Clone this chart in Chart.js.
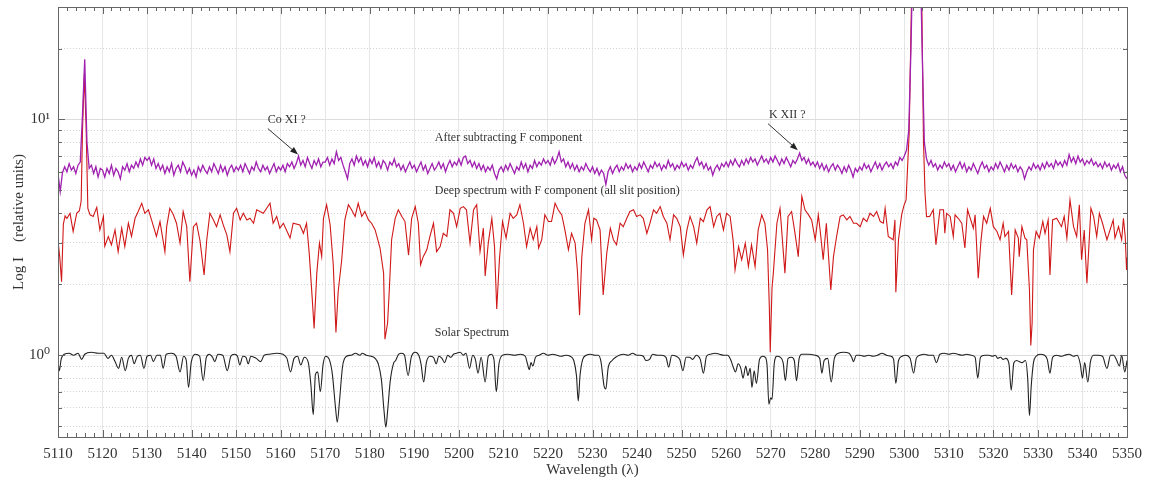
<!DOCTYPE html>
<html>
<head>
<meta charset="utf-8">
<script src="https://cdn.jsdelivr.net/npm/chart.js@4.4.0/dist/chart.umd.min.js"></script>
<style>
  html, body { margin: 0; padding: 0; background: #fff; }
</style>
</head>
<body>
<canvas id="spectra" width="1152" height="481"></canvas>
<script>
// Axis ranges and ticks
const xMin = 5110, xMax = 5350;
const yMin = 0.45, yMax = 30;
const yMajorTicks = [1, 10];
const yMinorTicks = [0.5, 0.6, 0.7, 0.8, 0.9, 2, 3, 4, 5, 6, 7, 8, 9, 20];

// Solar spectrum (black)
const solarWl = [5110.0, 5110.3, 5110.7, 5111.4, 5112.5, 5113.5, 5114.5, 5115.3, 5116.0, 5117.5, 5119.0, 5120.3, 5121.2, 5122.0, 5122.8, 5123.6, 5124.3, 5125.1, 5125.8, 5126.5, 5127.1, 5127.8, 5128.5, 5129.3, 5130.0, 5130.8, 5131.4, 5132.2, 5133.0, 5133.6, 5134.3, 5135.5, 5136.5, 5137.4, 5138.2, 5138.8, 5139.3, 5139.9, 5140.8, 5141.8, 5142.6, 5143.3, 5144.0, 5144.7, 5145.2, 5145.9, 5147.0, 5148.0, 5148.8, 5149.6, 5150.3, 5150.8, 5151.5, 5152.2, 5152.7, 5153.3, 5154.5, 5155.5, 5156.3, 5157.5, 5159.0, 5160.5, 5161.4, 5162.2, 5163.0, 5163.8, 5164.5, 5165.3, 5166.2, 5166.8, 5167.3, 5167.8, 5168.3, 5168.9, 5169.5, 5170.1, 5170.9, 5171.6, 5172.3, 5172.7, 5173.2, 5173.9, 5174.8, 5175.8, 5176.8, 5177.8, 5178.3, 5179.2, 5180.3, 5181.2, 5181.9, 5182.6, 5183.2, 5183.6, 5184.0, 5184.6, 5185.3, 5185.8, 5186.5, 5187.2, 5187.8, 5188.6, 5189.3, 5190.2, 5191.0, 5191.5, 5192.1, 5192.7, 5193.5, 5194.3, 5194.9, 5195.5, 5196.2, 5196.8, 5197.5, 5198.2, 5198.8, 5199.5, 5200.3, 5201.0, 5201.6, 5202.4, 5203.1, 5203.7, 5204.3, 5205.0, 5205.9, 5206.6, 5207.3, 5207.9, 5208.4, 5209.0, 5209.8, 5211.0, 5212.5, 5213.8, 5214.9, 5215.4, 5215.8, 5216.2, 5216.6, 5217.2, 5218.0, 5219.0, 5220.0, 5221.0, 5222.0, 5223.0, 5224.0, 5225.0, 5225.8, 5226.4, 5226.8, 5227.2, 5227.8, 5228.6, 5229.6, 5230.5, 5231.3, 5231.9, 5232.6, 5233.0, 5233.5, 5234.4, 5235.2, 5236.0, 5237.0, 5238.0, 5239.0, 5240.0, 5240.6, 5241.4, 5242.0, 5242.8, 5243.5, 5244.5, 5245.5, 5246.5, 5247.1, 5247.8, 5248.8, 5249.6, 5250.3, 5251.0, 5251.8, 5252.5, 5253.3, 5254.2, 5254.9, 5255.6, 5256.5, 5257.5, 5258.5, 5259.5, 5260.3, 5261.0, 5261.6, 5262.1, 5262.7, 5263.3, 5263.8, 5264.4, 5264.9, 5265.4, 5265.8, 5266.3, 5266.8, 5267.5, 5268.2, 5268.8, 5269.2, 5269.6, 5270.0, 5270.3, 5270.8, 5271.4, 5272.2, 5272.8, 5273.3, 5273.9, 5274.7, 5275.3, 5275.8, 5276.4, 5277.0, 5278.5, 5280.0, 5281.0, 5281.5, 5282.0, 5282.8, 5283.6, 5284.3, 5285.2, 5286.4, 5287.6, 5288.2, 5288.6, 5289.2, 5290.0, 5291.0, 5292.0, 5293.0, 5294.0, 5295.0, 5296.0, 5297.0, 5297.6, 5298.1, 5298.7, 5299.5, 5300.3, 5301.3, 5302.1, 5302.7, 5303.5, 5304.5, 5305.5, 5306.5, 5307.2, 5308.0, 5309.0, 5310.0, 5311.0, 5312.0, 5313.0, 5314.0, 5315.0, 5315.9, 5316.5, 5317.1, 5318.0, 5319.0, 5319.8, 5320.4, 5321.0, 5321.6, 5322.2, 5322.8, 5323.5, 5324.0, 5324.6, 5325.2, 5325.8, 5326.4, 5327.2, 5327.7, 5328.1, 5328.5, 5329.0, 5329.6, 5330.5, 5331.5, 5332.1, 5332.7, 5333.3, 5334.2, 5335.2, 5336.0, 5337.0, 5338.0, 5338.8, 5339.5, 5340.0, 5340.5, 5341.2, 5341.8, 5342.5, 5343.5, 5344.5, 5345.5, 5346.3, 5347.0, 5347.6, 5348.3, 5348.8, 5349.5, 5350.0];
const solarI = [0.93, 0.86, 0.96, 1.01, 1.02, 1.0, 1.02, 0.96, 1.01, 1.03, 1.02, 1.02, 0.97, 1.0, 0.94, 0.88, 0.98, 0.86, 0.97, 1.0, 0.92, 0.99, 1.0, 0.88, 0.99, 1.0, 0.94, 1.0, 1.0, 0.88, 1.01, 1.02, 0.99, 0.85, 0.99, 0.95, 0.73, 0.93, 1.01, 0.99, 0.78, 0.98, 1.01, 0.98, 0.94, 1.01, 1.0, 0.86, 0.99, 1.01, 0.99, 0.91, 0.99, 0.98, 0.92, 0.99, 0.97, 0.94, 1.0, 1.01, 1.02, 1.01, 0.97, 0.85, 0.97, 0.99, 0.91, 0.98, 0.93, 0.74, 0.56, 0.83, 0.85, 0.70, 0.91, 0.99, 0.96, 0.83, 0.60, 0.52, 0.64, 0.90, 0.99, 1.0, 1.02, 1.0, 1.02, 1.0, 0.99, 0.97, 0.92, 0.79, 0.58, 0.495, 0.58, 0.78, 0.92, 0.95, 1.01, 1.02, 1.0, 0.82, 0.98, 1.03, 1.0, 0.92, 0.77, 0.93, 0.99, 0.98, 0.92, 0.99, 0.97, 0.93, 1.0, 0.98, 1.01, 1.02, 1.03, 1.0, 1.02, 0.88, 1.0, 0.96, 0.84, 0.98, 0.77, 0.99, 1.01, 0.95, 0.70, 0.92, 1.0, 1.01, 1.0, 1.01, 0.99, 0.92, 0.87, 0.93, 0.90, 0.98, 1.0, 1.02, 1.0, 1.01, 1.0, 0.99, 1.0, 0.99, 0.95, 0.82, 0.64, 0.82, 0.96, 1.0, 1.01, 1.0, 1.0, 0.94, 0.74, 0.72, 0.88, 0.95, 0.98, 1.0, 1.01, 1.0, 1.02, 1.0, 1.0, 0.99, 0.95, 0.96, 1.01, 1.0, 1.0, 0.98, 0.89, 1.0, 0.99, 0.96, 0.86, 0.98, 0.98, 0.96, 1.0, 0.96, 0.84, 0.99, 1.01, 1.02, 1.01, 1.0, 1.0, 0.96, 0.89, 0.85, 0.92, 0.88, 0.80, 0.90, 0.82, 0.88, 0.73, 0.86, 0.76, 0.96, 0.99, 0.98, 0.90, 0.62, 0.66, 0.65, 0.92, 0.99, 0.98, 0.93, 0.78, 0.97, 0.98, 0.95, 0.78, 0.97, 1.01, 1.01, 1.0, 0.97, 0.84, 0.95, 0.97, 0.77, 0.97, 1.02, 1.03, 1.02, 0.98, 0.94, 1.0, 1.0, 0.99, 1.0, 0.99, 1.0, 1.02, 1.0, 0.99, 0.96, 0.76, 0.95, 0.99, 1.0, 0.97, 0.84, 0.97, 1.0, 1.01, 1.0, 1.0, 0.93, 1.01, 1.02, 1.01, 1.02, 1.01, 1.0, 1.01, 1.0, 0.98, 0.80, 0.98, 1.0, 1.0, 0.99, 1.0, 0.97, 0.98, 0.96, 0.97, 0.92, 0.71, 0.93, 0.95, 0.94, 0.93, 0.95, 0.80, 0.555, 0.74, 0.93, 0.99, 1.01, 1.0, 0.96, 0.84, 0.98, 1.0, 0.99, 1.0, 1.01, 0.99, 1.0, 0.92, 0.80, 0.93, 0.77, 0.94, 1.0, 1.0, 0.99, 0.88, 1.0, 1.0, 0.96, 0.90, 1.0, 0.85, 0.95];

// Deep spectrum with F component (red)
const redWl = [5110.0, 5110.4, 5110.8, 5111.2, 5111.6, 5112.0, 5112.7, 5113.4, 5114.2, 5114.8, 5115.2, 5115.5, 5115.9, 5116.3, 5116.7, 5117.2, 5117.9, 5118.7, 5119.4, 5120.2, 5120.5, 5121.3, 5122.0, 5122.8, 5123.5, 5124.3, 5125.0, 5125.8, 5126.5, 5127.3, 5128.0, 5128.8, 5129.5, 5130.3, 5131.0, 5132.1, 5132.9, 5134.0, 5134.4, 5135.1, 5135.9, 5136.6, 5137.4, 5138.1, 5138.9, 5139.6, 5140.4, 5141.1, 5141.9, 5142.8, 5143.4, 5144.1, 5144.9, 5145.6, 5146.4, 5147.1, 5147.9, 5148.6, 5149.4, 5150.1, 5150.9, 5151.6, 5152.4, 5153.1, 5153.9, 5154.6, 5156.1, 5157.6, 5158.3, 5159.1, 5159.8, 5160.6, 5162.1, 5162.8, 5164.3, 5165.1, 5165.8, 5166.4, 5166.9, 5167.5, 5168.1, 5168.7, 5169.2, 5169.6, 5170.3, 5171.1, 5171.8, 5172.4, 5172.9, 5173.7, 5174.4, 5175.2, 5175.9, 5176.7, 5177.4, 5178.2, 5178.9, 5179.7, 5180.4, 5181.2, 5182.3, 5183.1, 5183.4, 5184.0, 5184.4, 5184.9, 5185.7, 5186.4, 5187.2, 5187.9, 5188.7, 5189.4, 5190.2, 5190.9, 5191.4, 5192.0, 5192.8, 5193.5, 5194.3, 5195.0, 5195.8, 5196.5, 5197.3, 5198.0, 5198.8, 5199.5, 5200.3, 5201.0, 5201.7, 5202.5, 5203.3, 5204.0, 5204.75, 5205.5, 5205.9, 5206.6, 5207.4, 5208.0, 5208.5, 5209.1, 5209.8, 5210.6, 5211.5, 5212.2, 5213.0, 5213.7, 5214.5, 5215.2, 5216.0, 5216.7, 5217.5, 5217.9, 5218.6, 5219.3, 5220.1, 5220.8, 5221.6, 5222.3, 5223.1, 5223.8, 5224.6, 5225.3, 5226.1, 5226.6, 5227.1, 5227.6, 5228.3, 5229.1, 5229.8, 5230.3, 5230.9, 5231.7, 5232.4, 5233.2, 5234.0, 5234.7, 5235.4, 5236.2, 5236.9, 5237.7, 5238.4, 5239.2, 5239.9, 5240.7, 5241.4, 5242.2, 5242.9, 5243.7, 5244.4, 5245.2, 5245.9, 5246.7, 5247.4, 5248.2, 5248.9, 5249.7, 5250.4, 5251.2, 5251.9, 5252.7, 5253.4, 5254.2, 5254.9, 5255.7, 5256.4, 5257.2, 5257.9, 5258.6, 5259.4, 5260.1, 5260.9, 5261.6, 5262.0, 5262.8, 5263.5, 5264.3, 5265.0, 5265.7, 5266.5, 5267.2, 5268.0, 5268.7, 5269.3, 5269.7, 5269.9, 5270.3, 5270.6, 5271.4, 5272.1, 5273.2, 5273.9, 5274.7, 5275.4, 5276.2, 5277.0, 5277.7, 5278.5, 5279.2, 5280.0, 5280.7, 5281.1, 5281.8, 5282.5, 5283.5, 5284.1, 5284.8, 5285.6, 5286.3, 5287.1, 5287.8, 5288.6, 5289.3, 5290.1, 5290.8, 5291.6, 5292.3, 5293.1, 5293.8, 5294.6, 5295.3, 5295.7, 5296.4, 5297.5, 5297.9, 5298.1, 5298.7, 5299.4, 5299.9, 5300.4, 5301.1, 5301.65, 5302.2, 5303.0, 5303.6, 5303.9, 5304.3, 5304.65, 5305.0, 5305.7, 5306.5, 5307.1, 5308.0, 5308.8, 5309.1, 5309.5, 5310.3, 5311.0, 5311.4, 5312.1, 5312.9, 5313.6, 5314.2, 5314.8, 5315.5, 5315.9, 5316.6, 5317.2, 5317.8, 5318.5, 5319.3, 5320.0, 5320.8, 5321.5, 5322.2, 5322.6, 5323.4, 5324.1, 5324.9, 5325.6, 5325.8, 5326.4, 5327.1, 5327.5, 5328.1, 5328.4, 5328.7, 5329.0, 5329.6, 5330.3, 5331.1, 5331.6, 5332.3, 5332.7, 5333.3, 5334.2, 5335.3, 5335.9, 5336.5, 5337.2, 5338.0, 5338.7, 5339.3, 5339.8, 5340.4, 5341.0, 5341.9, 5342.5, 5343.2, 5343.8, 5344.5, 5345.5, 5346.2, 5346.9, 5347.3, 5348.1, 5348.8, 5349.2, 5349.6, 5349.9, 5350.0];
const redI = [3.05, 2.6, 2.05, 3.6, 3.9, 3.8, 4.0, 3.35, 4.0, 4.1, 4.5, 9.0, 15.5, 9.5, 4.2, 3.94, 3.88, 4.24, 3.40, 3.88, 2.90, 3.19, 2.94, 3.40, 2.75, 3.46, 2.89, 3.63, 3.19, 3.81, 4.07, 4.41, 4.0, 4.14, 3.75, 3.19, 3.69, 2.75, 3.51, 4.20, 3.94, 3.63, 2.99, 4.07, 3.51, 2.05, 3.51, 3.63, 3.04, 2.19, 3.09, 4.0, 3.75, 3.51, 3.94, 3.57, 3.24, 2.75, 4.0, 4.20, 3.75, 4.0, 3.75, 3.81, 3.63, 4.14, 4.0, 4.41, 3.63, 3.88, 3.46, 3.63, 3.14, 3.63, 3.57, 3.29, 3.63, 2.71, 1.96, 1.30, 2.23, 2.99, 2.62, 3.81, 4.35, 3.57, 2.42, 1.25, 1.86, 2.54, 3.75, 4.35, 4.14, 3.88, 4.41, 3.88, 4.07, 3.75, 3.63, 3.40, 2.85, 2.23, 1.17, 1.37, 1.93, 3.09, 3.81, 4.14, 3.88, 3.69, 2.66, 3.81, 4.27, 3.63, 2.42, 2.62, 2.80, 3.19, 3.63, 2.75, 2.89, 3.29, 3.19, 4.14, 4.0, 3.51, 4.20, 4.27, 4.14, 2.99, 4.14, 4.35, 2.75, 3.46, 2.17, 2.99, 3.81, 2.89, 1.57, 2.54, 3.69, 3.14, 4.0, 3.81, 3.94, 4.35, 3.63, 2.89, 3.46, 3.09, 3.51, 2.85, 3.09, 3.94, 3.69, 3.69, 4.41, 4.14, 3.94, 3.40, 2.80, 3.29, 2.99, 2.30, 1.48, 2.62, 3.63, 4.14, 3.09, 3.81, 3.75, 3.40, 1.80, 2.71, 3.46, 3.09, 2.94, 3.63, 3.51, 3.81, 4.07, 4.14, 3.88, 3.94, 3.81, 3.29, 3.63, 4.14, 4.0, 4.27, 3.88, 3.63, 3.09, 3.94, 3.81, 3.51, 2.66, 3.40, 3.88, 3.51, 2.99, 3.81, 3.69, 4.14, 4.27, 3.51, 3.88, 4.0, 3.40, 4.0, 3.88, 3.04, 2.30, 2.89, 2.54, 2.99, 2.38, 2.94, 2.38, 3.40, 3.94, 3.63, 2.80, 1.60, 1.03, 1.93, 2.23, 3.63, 4.20, 2.23, 3.88, 4.07, 3.35, 2.62, 4.72, 4.14, 3.94, 3.75, 3.09, 3.94, 3.40, 2.54, 3.63, 1.89, 2.62, 3.19, 3.88, 3.94, 3.75, 3.88, 3.63, 3.63, 3.51, 3.81, 3.69, 4.0, 3.88, 4.07, 3.69, 3.63, 4.20, 3.19, 3.09, 3.75, 1.85, 3.09, 3.94, 4.3, 4.56, 8.8, 35, 80, 90, 60, 35, 8.2, 4.89, 3.87, 3.88, 4.14, 2.94, 4.14, 4.14, 3.29, 4.0, 3.88, 3.19, 3.94, 3.81, 3.63, 2.85, 4.14, 3.81, 3.46, 3.94, 2.12, 3.04, 3.88, 3.63, 4.20, 3.51, 3.35, 3.09, 3.63, 3.19, 3.35, 1.80, 3.40, 3.14, 2.62, 3.51, 3.14, 3.09, 1.89, 1.10, 1.37, 2.80, 3.35, 3.14, 3.69, 3.29, 3.75, 2.19, 3.75, 3.81, 3.51, 3.88, 3.14, 4.56, 3.51, 3.19, 4.35, 2.54, 3.40, 2.02, 4.20, 3.88, 3.19, 4.0, 3.63, 3.09, 3.40, 3.75, 3.14, 3.51, 3.09, 3.81, 3.19, 2.30, 2.6];

// After subtracting F component (purple), sampled every 0.5 nm from 5110
const purpleStart = 5110, purpleStep = 0.5;
const purpleI = [
  5.9, 4.95, 5.95, 6.3, 6.0, 6.5, 6.1, 6.3, 5.9, 6.4, 6.6, 10.5, 18.0, 8.0, 6.2, 6.4, 5.9, 6.3, 5.7, 6.2,
  6.1, 5.7, 6.2, 5.9, 6.4, 5.8, 6.2, 6.0, 5.6, 6.3, 6.1, 6.5, 6.0, 6.4, 6.2, 6.6, 6.3, 6.8, 6.4, 6.9,
  6.7, 6.9, 6.4, 6.8, 6.2, 6.5, 6.1, 6.4, 5.9, 6.3, 6.0, 6.5, 5.8, 6.2, 6.4, 6.0, 6.6, 6.3, 5.9, 6.2,
  5.8, 6.1, 5.7, 6.3, 6.0, 6.4, 6.1, 5.9, 6.3, 6.0, 6.5, 6.2, 5.9, 6.4, 6.0, 6.3, 5.8, 6.2, 6.4, 6.0,
  6.3, 6.1, 6.4, 6.0, 6.5, 6.2, 5.9, 6.3, 6.1, 6.6, 6.2, 6.0, 6.4, 6.1, 6.3, 5.9, 6.2, 6.5, 6.0, 6.3,
  6.1, 6.4, 6.0, 6.5, 6.3, 6.6, 6.2, 6.5, 7.0, 6.4, 6.7, 6.3, 6.9, 6.5, 6.2, 6.7, 6.4, 6.8, 6.3, 6.6,
  6.6, 6.9, 6.4, 6.8, 6.5, 7.3, 6.7, 6.9, 6.4, 6.0, 5.6, 6.5, 6.8, 6.4, 7.0, 6.6, 6.9, 6.4, 6.7, 6.3,
  6.8, 6.5, 6.9, 6.3, 6.6, 6.2, 6.7, 6.5, 6.1, 6.6, 6.4, 6.8, 6.3, 6.5, 6.1, 6.4, 6.0, 6.3, 6.6, 6.2,
  6.4, 6.0, 6.3, 6.6, 6.1, 6.4, 5.9, 6.2, 6.5, 6.1, 6.3, 6.6, 6.2, 6.5, 6.0, 6.4, 6.7, 6.3, 6.6, 6.4,
  6.8, 6.4, 6.9, 7.0, 6.5, 6.7, 6.3, 6.6, 6.2, 6.5, 6.1, 6.4, 6.0, 6.3, 6.1, 6.4, 5.9, 5.6, 6.1, 6.3,
  6.0, 6.4, 6.1, 6.5, 6.2, 5.9, 6.3, 6.1, 6.6, 6.2, 6.5, 6.0, 6.4, 6.2, 6.7, 6.3, 6.6, 6.4, 6.8, 6.5,
  6.7, 6.4, 6.9, 6.5, 6.8, 7.3, 6.6, 6.8, 6.3, 6.6, 6.2, 6.5, 6.1, 6.4, 6.0, 6.3, 6.1, 6.5, 6.2, 6.0,
  6.3, 5.9, 6.2, 5.8, 6.1, 5.9, 5.3, 6.0, 6.3, 5.9, 6.2, 6.4, 6.0, 6.3, 6.1, 6.5, 6.2, 6.4, 6.0, 6.3,
  6.1, 6.5, 6.2, 6.6, 6.3, 6.0, 6.4, 6.2, 6.6, 6.3, 6.5, 6.1, 6.4, 6.2, 6.7, 6.3, 6.5, 6.1, 6.4, 6.2,
  6.6, 6.3, 6.5, 6.1, 6.4, 6.2, 6.6, 6.9, 6.4, 6.6, 6.2, 6.5, 6.1, 6.3, 5.8, 6.2, 6.4, 6.1, 6.5, 6.3,
  6.6, 6.3, 6.7, 6.4, 6.8, 6.5, 6.3, 6.7, 6.4, 6.8, 6.5, 6.9, 6.6, 6.8, 6.4, 6.7, 7.0, 6.6, 6.8, 6.5,
  6.9, 6.6, 7.0, 6.7, 6.4, 6.8, 6.5, 6.9, 6.6, 6.3, 6.7, 6.5, 6.8, 7.2, 6.7, 6.9, 6.5, 6.8, 6.4, 6.6,
  6.3, 6.6, 6.2, 6.5, 6.1, 6.4, 6.0, 6.3, 6.5, 6.1, 6.4, 6.2, 5.9, 6.3, 6.0, 6.4, 6.1, 5.7, 6.2, 6.0,
  6.3, 6.1, 6.5, 6.2, 6.4, 6.0, 6.3, 6.6, 6.2, 6.5, 6.1, 6.4, 6.6, 6.3, 6.5, 6.2, 6.6, 6.4, 6.9, 6.7,
  7.0, 7.4, 9.0, 20, 60, 90, 90, 60, 20, 8.0, 6.8, 6.4, 6.7, 6.3, 6.5, 6.1, 6.4, 6.2, 6.6, 6.3,
  6.5, 6.1, 6.4, 6.0, 6.3, 6.6, 6.2, 6.5, 6.0, 6.3, 6.1, 6.5, 6.2, 5.9, 6.3, 6.6, 6.2, 6.4, 6.0, 6.3,
  6.1, 6.5, 6.2, 6.6, 6.3, 6.0, 6.4, 6.1, 6.5, 6.2, 6.4, 6.0, 6.3, 6.1, 5.6, 6.0, 6.3, 6.1, 6.5, 6.2,
  6.4, 6.1, 6.5, 6.2, 6.6, 6.3, 6.5, 6.2, 6.7, 6.4, 6.6, 6.3, 6.7, 6.4, 7.1, 6.6, 6.9, 6.5, 7.0, 6.6,
  6.8, 6.4, 6.7, 6.5, 6.8, 6.4, 6.6, 6.3, 6.5, 6.2, 6.6, 6.3, 6.5, 6.1, 6.4, 6.2, 6.5, 6.0, 6.3, 5.8,
  5.6
];

// Text labels placed in data coordinates (left edge, vertical centre)
const noteTexts = ["After subtracting F component", "Deep spectrum with F component (all slit position)", "Solar Spectrum", "Co XI ?", "K XII ?"];
const noteWl = [5194.6, 5194.6, 5194.6, 5157.1, 5269.6];
const noteI = [8.36, 4.98, 1.24, 10.0, 10.5];

// Arrows: [start wavelength, start I], [end wavelength, end I]
const arrowFrom = [[5157.1, 9.15], [5269.4, 9.6]];
const arrowTo = [[5163.9, 7.1], [5276.1, 7.4]];

const serif = '"Liberation Serif", "DejaVu Serif", serif';

function pairs(xs, ys) {
  return xs.map((w, i) => ({ x: w, y: ys[i] }));
}
const purplePts = purpleI.map((v, i) => ({ x: purpleStart + i * purpleStep, y: v }));

// Inward ticks and box frame (MATLAB style)
const frameTicks = {
  id: 'frameTicks',
  afterDraw(chart) {
    const { ctx, chartArea: a, scales } = chart;
    const xs = scales.x, ys = scales.y;
    ctx.save();
    ctx.strokeStyle = '#666';
    ctx.lineWidth = 1;
    ctx.beginPath();
    for (let w = xMin; w <= xMax; w += 2) {
      const px = Math.round(xs.getPixelForValue(w)) + 0.5;
      const len = (w % 10 === 0) ? 7 : 4;
      ctx.moveTo(px, a.bottom); ctx.lineTo(px, a.bottom - len);
      ctx.moveTo(px, a.top); ctx.lineTo(px, a.top + len);
    }
    yMajorTicks.concat(yMinorTicks).forEach(v => {
      const py = Math.round(ys.getPixelForValue(v)) + 0.5;
      const len = yMajorTicks.includes(v) ? 7 : 4;
      ctx.moveTo(a.left, py); ctx.lineTo(a.left + len, py);
      ctx.moveTo(a.right, py); ctx.lineTo(a.right - len, py);
    });
    ctx.stroke();
    ctx.strokeRect(Math.round(a.left) + 0.5, Math.round(a.top) + 0.5, Math.round(a.right - a.left), Math.round(a.bottom - a.top));
    ctx.restore();
  }
};

// Text notes and arrows
const notes = {
  id: 'notes',
  afterDatasetsDraw(chart) {
    const { ctx, scales } = chart;
    const xs = scales.x, ys = scales.y;
    ctx.save();
    ctx.font = '12px ' + serif;
    ctx.fillStyle = '#333';
    ctx.textBaseline = 'middle';
    noteTexts.forEach((t, i) => {
      ctx.fillText(t, xs.getPixelForValue(noteWl[i]), ys.getPixelForValue(noteI[i]));
    });
    ctx.strokeStyle = '#333';
    ctx.fillStyle = '#222';
    ctx.lineWidth = 1;
    arrowFrom.forEach((p, i) => {
      const x0 = xs.getPixelForValue(p[0]), y0 = ys.getPixelForValue(p[1]);
      const x1 = xs.getPixelForValue(arrowTo[i][0]), y1 = ys.getPixelForValue(arrowTo[i][1]);
      const ang = Math.atan2(y1 - y0, x1 - x0);
      ctx.beginPath();
      ctx.moveTo(x0, y0); ctx.lineTo(x1 - 5 * Math.cos(ang), y1 - 5 * Math.sin(ang));
      ctx.stroke();
      ctx.beginPath();
      ctx.moveTo(x1, y1);
      ctx.lineTo(x1 - 8 * Math.cos(ang) + 3 * Math.sin(ang), y1 - 8 * Math.sin(ang) - 3 * Math.cos(ang));
      ctx.lineTo(x1 - 8 * Math.cos(ang) - 3 * Math.sin(ang), y1 - 8 * Math.sin(ang) + 3 * Math.cos(ang));
      ctx.closePath();
      ctx.fill();
    });
    ctx.restore();
  }
};

Chart.defaults.font.family = serif;
Chart.defaults.color = '#333';

new Chart(document.getElementById('spectra'), {
  type: 'line',
  data: {
    datasets: [
      {
        label: 'After subtracting F component',
        data: purplePts,
        borderColor: '#a020b0',
        borderWidth: 1.3,
        pointRadius: 0,
        tension: 0,
      },
      {
        label: 'Deep spectrum with F component',
        data: pairs(redWl, redI),
        borderColor: '#d01818',
        borderWidth: 1.1,
        pointRadius: 0,
        tension: 0,
      },
      {
        label: 'Solar Spectrum',
        data: pairs(solarWl, solarI),
        borderColor: '#222',
        borderWidth: 1.1,
        pointRadius: 0,
        cubicInterpolationMode: 'monotone',
      },
    ],
  },
  options: {
    responsive: false,
    animation: false,
    events: [],
    layout: { padding: { top: 7, right: 25, bottom: 0, left: 0 } },
    plugins: {
      legend: { display: false },
      tooltip: { enabled: false },
    },
    scales: {
      x: {
        type: 'linear',
        min: xMin,
        max: xMax,
        grid: { color: '#e6e6e6', drawTicks: false },
        border: { display: false },
        ticks: {
          stepSize: 10, autoSkip: false, maxRotation: 0, padding: 8, font: { size: 15 },
          callback: (v) => String(v),
        },
        title: { display: true, text: 'Wavelength (λ)', font: { size: 15 }, padding: { top: 0, bottom: 2 } },
        afterFit(scale) { scale.height = 44; scale.paddingLeft = 0; scale.paddingRight = 0; },
      },
      y: {
        type: 'logarithmic',
        min: yMin,
        max: yMax,
        grid: { color: '#dcdcdc', drawTicks: false },
        border: { display: false },
        afterBuildTicks(scale) { scale.ticks = yMajorTicks.map(v => ({ value: v })); },
        ticks: {
          padding: 8,
          font: { size: 15 },
          callback: (v) => v === 1 ? '10⁰' : (v === 10 ? '10¹' : ''),
        },
        title: { display: true, text: 'Log I    (relative units)', font: { size: 15 }, padding: { top: 10, bottom: 0 } },
        afterFit(scale) { scale.width = 58; scale.paddingTop = 0; scale.paddingBottom = 0; },
      },
      yMinor: {
        type: 'logarithmic',
        position: 'left',
        min: yMin,
        max: yMax,
        grid: { color: '#d4d4d4', drawTicks: false },
        border: { display: false, dash: [1, 2] },
        afterBuildTicks(scale) { scale.ticks = yMinorTicks.map(v => ({ value: v })); },
        ticks: { display: false },
        afterFit(scale) { scale.width = 0; scale.paddingTop = 0; scale.paddingBottom = 0; },
      },
    },
  },
  plugins: [frameTicks, notes],
});
</script>
</body>
</html>
